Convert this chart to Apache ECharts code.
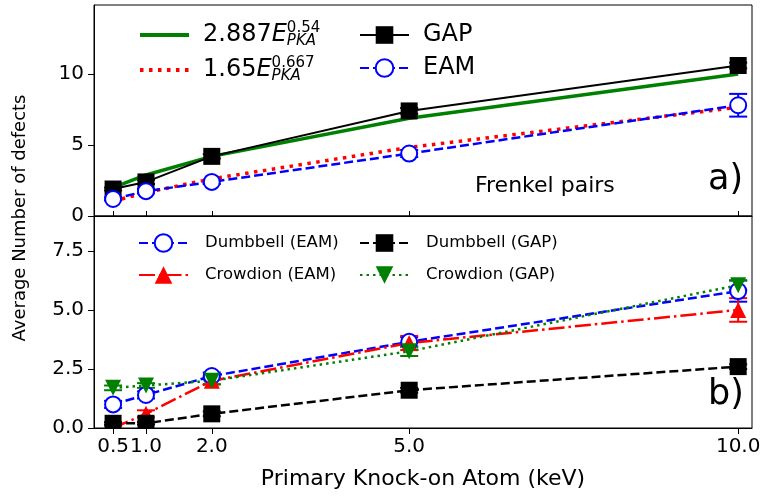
<!DOCTYPE html>
<html>
<head>
<meta charset="utf-8">
<script src="https://cdn.jsdelivr.net/npm/echarts@6/dist/echarts.min.js"></script>
<style>
html, body { margin: 0; padding: 0; background: #fff; }
#chart { width: 767px; height: 497px; }
</style>
</head>
<body>
<div id="chart"></div>
<script>
// PKA energies (keV) and tick positions
var energies = [0.5, 1.0, 2.0, 5.0, 10.0];
var xTicks = [0.5, 1.0, 2.0, 5.0, 10.0];
var yTicksTop = [0, 5, 10];
var yTicksBottom = [0, 2.5, 5, 7.5];

// a) Frenkel pairs
var gapFP = [1.9, 2.4, 4.2, 7.4, 10.6];
var gapFPErr = [0.1, 0.15, 0.15, 0.2, 0.2];
var eamFP = [1.2, 1.75, 2.4, 4.4, 7.8];
var eamFPErr = [0.1, 0.15, 0.15, 0.25, 0.8];
var fitGap = [1.99, 2.89, 4.2, 6.89, 10.0];
var fitEam = [1.04, 1.65, 2.62, 4.83, 7.66];

// b) dumbbells / crowdions
var dumbEam = [1.0, 1.4, 2.2, 3.65, 5.8];
var dumbEamErr = [0.15, 0.15, 0.15, 0.2, 0.45];
var crowEam = [0.0, 0.6, 2.0, 3.6, 5.0];
var crowEamErr = [0.1, 0.15, 0.15, 0.3, 0.5];
var dumbGap = [0.2, 0.2, 0.6, 1.6, 2.6];
var dumbGapErr = [0.05, 0.05, 0.1, 0.1, 0.1];
var crowGap = [1.7, 1.8, 2.0, 3.25, 6.05];
var crowGapErr = [0.1, 0.1, 0.15, 0.2, 0.2];

var FONT = 'DejaVu Sans';
var chart = echarts.init(document.getElementById('chart'));

function pairs(vals) {
  return energies.map(function (e, i) { return [e, vals[i]]; });
}

function errBars(vals, errs, color, ax) {
  return {
    type: 'custom', xAxisIndex: ax, yAxisIndex: ax, silent: true, z: 2,
    data: energies.map(function (e, i) { return [e, vals[i] - errs[i], vals[i] + errs[i]]; }),
    renderItem: function (params, api) {
      var lo = api.coord([api.value(0), api.value(1)]);
      var hi = api.coord([api.value(0), api.value(2)]);
      var w = 9;
      var st = { stroke: color, lineWidth: 2 };
      return {
        type: 'group',
        children: [
          { type: 'line', shape: { x1: lo[0], y1: lo[1], x2: hi[0], y2: hi[1] }, style: st },
          { type: 'line', shape: { x1: lo[0] - w, y1: lo[1], x2: lo[0] + w, y2: lo[1] }, style: st },
          { type: 'line', shape: { x1: hi[0] - w, y1: hi[1], x2: hi[0] + w, y2: hi[1] }, style: st }
        ]
      };
    }
  };
}

function line(name, vals, ax, color, dash, width, symbol, size, fill, rot) {
  return {
    name: name, type: 'line', xAxisIndex: ax, yAxisIndex: ax, z: 2,
    data: pairs(vals),
    symbol: symbol, symbolSize: size, symbolRotate: rot || 0,
    showSymbol: symbol !== 'none',
    lineStyle: { color: color, width: width, type: dash },
    itemStyle: { color: fill, borderColor: color, borderWidth: fill === '#fff' ? 2 : 0 },
    emphasis: { disabled: true }
  };
}

function legend(names, left, top, gap, size, lh, pad, extra) {
  var l = {
    data: names, orient: 'vertical', left: left, top: top, itemGap: gap, padding: 0,
    itemWidth: 49, itemHeight: 22, selectedMode: false,
    textStyle: { fontFamily: FONT, fontSize: size, color: '#000', lineHeight: lh, padding: [0, 0, 0, pad] }
  };
  for (var k in extra) l[k] = extra[k];
  return l;
}

var fitLabels = {
  fitGap: '2.887{e|E}{sb|PKA}{sp|0.54}',
  fitEam: '1.65{e|E}{sb|PKA}{sp|0.667}'
};

var xBase = {
  type: 'value', min: 0.21, max: 10.21,
  splitLine: { show: false },
  axisLine: { lineStyle: { color: '#000', width: 1 } }
};

var tickTxt = { fontFamily: FONT, fontSize: 20, color: '#000' };

var option = {
  animation: false,
  backgroundColor: '#fff',
  grid: [
    { left: 94, top: 5, width: 658, height: 211, show: true, borderColor: '#000', borderWidth: 1 },
    { left: 94, top: 216, width: 658, height: 212, show: true, borderColor: '#000', borderWidth: 1 }
  ],
  xAxis: [
    Object.assign({}, xBase, {
      gridIndex: 0,
      axisLabel: { show: false, customValues: xTicks },
      axisTick: { inside: true, length: 5, customValues: xTicks, lineStyle: { color: '#000' } }
    }),
    Object.assign({}, xBase, {
      gridIndex: 1, z: 10,
      name: 'Primary Knock-on Atom (keV)', nameLocation: 'middle', nameGap: 40,
      nameTextStyle: { fontFamily: FONT, fontSize: 22, color: '#000' },
      axisLabel: Object.assign({ customValues: xTicks, margin: 9, hideOverlap: false,
        formatter: function (v) { return v.toFixed(1); } }, tickTxt),
      axisTick: { length: 6, customValues: xTicks, lineStyle: { color: '#000' } }
    })
  ],
  yAxis: [
    {
      type: 'value', gridIndex: 0, min: 0, max: 14.86,
      splitLine: { show: false },
      axisLine: { show: true, lineStyle: { color: '#000' } },
      axisTick: { show: true, length: 6, customValues: yTicksTop, lineStyle: { color: '#000' } },
      axisLabel: Object.assign({ customValues: yTicksTop, margin: 10 }, tickTxt)
    },
    {
      type: 'value', gridIndex: 1, min: 0, max: 8.98,
      splitLine: { show: false },
      axisLine: { show: true, lineStyle: { color: '#000' } },
      axisTick: { show: true, length: 6, customValues: yTicksBottom, lineStyle: { color: '#000' } },
      axisLabel: Object.assign({ customValues: yTicksBottom, margin: 10,
        formatter: function (v) { return v.toFixed(1); } }, tickTxt)
    }
  ],
  legend: [
    legend([
      { name: 'fitGap', lineStyle: { width: 4 } },
      { name: 'fitEam', lineStyle: { width: 4 } }
    ], 138, 17.5, 0, 24, 35, 9, {
      itemStyle: { opacity: 0 },
      formatter: function (n) { return fitLabels[n]; },
      textStyle: {
        fontFamily: FONT, fontSize: 24, color: '#000', lineHeight: 35, padding: [0, 0, 0, 9],
        rich: {
          e: { fontFamily: FONT, fontSize: 24, fontStyle: 'italic', color: '#000', lineHeight: 35 },
          sb: { fontFamily: FONT, fontSize: 15, fontStyle: 'italic', color: '#000', verticalAlign: 'bottom', lineHeight: 15, width: 0, padding: [0, 0, 4, 0] },
          sp: { fontFamily: FONT, fontSize: 15, color: '#000', verticalAlign: 'top', lineHeight: 15, padding: [3, 0, 0, 0] }
        }
      }
    }),
    legend(['GAP', 'EAM'], 359, 20, 3, 24, 30, 9, {}),
    legend(['Dumbbell (EAM)', 'Crowdion (EAM)'], 138, 233, 12, 16.5, 20, 12, {}),
    legend(['Dumbbell (GAP)', 'Crowdion (GAP)'], 359, 233, 12, 16.5, 20, 12, {})
  ],
  graphic: [
    // hides the parts of markers that fall below the lower axis (plot clipping)
    { type: 'rect', z: 5, shape: { x: 95, y: 428.5, width: 656, height: 10 }, style: { fill: '#fff' } },
    { type: 'text', left: 475, top: 175, style: { text: 'Frenkel pairs', fontFamily: FONT, fontSize: 22, fill: '#000' } },
    { type: 'text', left: 708, top: 162, style: { text: 'a)', fontFamily: FONT, fontSize: 35, fill: '#000' } },
    { type: 'text', left: 708, top: 377, style: { text: 'b)', fontFamily: FONT, fontSize: 35, fill: '#000' } },
    { type: 'text', x: 20, y: 218, rotation: Math.PI / 2,
      style: { text: 'Average Number of defects', fontFamily: FONT, fontSize: 18, fill: '#000', align: 'center', verticalAlign: 'middle' } }
  ],
  series: [
    line('fitGap', fitGap, 0, '#008000', 'solid', 3.5, 'none', 0, '#008000'),
    line('fitEam', fitEam, 0, '#ff0000', [3.5, 5.5], 3.5, 'none', 0, '#ff0000'),
    errBars(gapFP, gapFPErr, '#000', 0),
    line('GAP', gapFP, 0, '#000', 'solid', 2, 'rect', 17, '#000'),
    errBars(eamFP, eamFPErr, '#0000ff', 0),
    line('EAM', eamFP, 0, '#0000ff', [9, 4], 2.5, 'circle', 16, '#fff'),

    errBars(dumbEam, dumbEamErr, '#0000ff', 1),
    line('Dumbbell (EAM)', dumbEam, 1, '#0000ff', [9, 4], 2.5, 'circle', 16, '#fff'),
    errBars(crowEam, crowEamErr, '#ff0000', 1),
    line('Crowdion (EAM)', crowEam, 1, '#ff0000', [16, 4, 2.5, 4], 2.5, 'triangle', 16, '#ff0000'),
    errBars(dumbGap, dumbGapErr, '#000', 1),
    line('Dumbbell (GAP)', dumbGap, 1, '#000', [9, 4], 2.5, 'rect', 17, '#000'),
    errBars(crowGap, crowGapErr, '#008000', 1),
    line('Crowdion (GAP)', crowGap, 1, '#008000', [2.5, 4], 2.5, 'triangle', 16, '#008000', 180)
  ]
};

chart.setOption(option);
</script>
</body>
</html>
